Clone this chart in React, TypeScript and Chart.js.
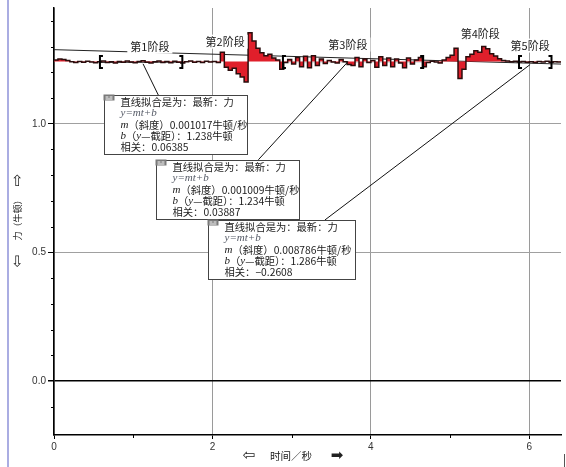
import React, { useEffect, useRef } from 'react';
import { Chart, registerables } from 'chart.js';

Chart.register(...registerables);

// sampling grid of the force sensor (seconds)
const sampleInterval = 0.05;
// force readings (N), one per sample
const force = [
  1.248, 1.252, 1.250, 1.246, 1.241, 1.238, 1.242, 1.239, 1.243, 1.240,
  1.237, 1.241, 1.244, 1.238, 1.241, 1.236, 1.242, 1.239, 1.244, 1.240,
  1.237, 1.242, 1.245, 1.239, 1.236, 1.241, 1.244, 1.238, 1.242, 1.237,
  1.243, 1.239, 1.236, 1.241, 1.244, 1.239, 1.242, 1.238, 1.243, 1.240,
  1.242, 1.238, 1.278, 1.220, 1.208, 1.216, 1.194, 1.182, 1.162, 1.354,
  1.322, 1.294, 1.276, 1.264, 1.270, 1.256, 1.248, 1.212, 1.238, 1.250,
  1.232, 1.258, 1.222, 1.262, 1.218, 1.264, 1.226, 1.252, 1.234, 1.246,
  1.240, 1.236, 1.250, 1.241, 1.230, 1.226, 1.258, 1.222, 1.252, 1.238,
  1.246, 1.220, 1.260, 1.226, 1.256, 1.222, 1.252, 1.236, 1.218, 1.256,
  1.232, 1.248, 1.258, 1.222, 1.238, 1.243, 1.240, 1.236, 1.248, 1.258,
  1.266, 1.294, 1.176, 1.212, 1.260, 1.270, 1.284, 1.278, 1.300, 1.292,
  1.272, 1.263, 1.253, 1.246, 1.244, 1.241, 1.243, 1.240, 1.242, 1.239,
  1.241, 1.238, 1.242, 1.240, 1.243, 1.239, 1.241, 1.240, 1.242,
];
const fillBaseline = 1.242;

const xTicks = [0, 2, 4, 6];
const xMinorTicks = [1, 3, 5];
const yTicks = [0, 0.5, 1.0];
const yMinorTicks = [-0.1, 0.1, 0.2, 0.3, 0.4, 0.6, 0.7, 0.8, 0.9, 1.1, 1.2, 1.3, 1.4];

// fitted lines: [t0, f0, t1, f1]
const fitLongLine = [0, 1.288, 6.4, 1.232];
const fitStage1Line = [0.58, 1.2386, 1.62, 1.2396];
const fitStage3Line = [2.89, 1.237, 4.67, 1.239];

// stage labels
const stageNames = ['第1阶段', '第2阶段', '第3阶段', '第4阶段', '第5阶段'];
const stageLabelT = [1.21, 2.16, 3.71, 5.38, 6.01];
const stageLabelF = [1.300, 1.319, 1.308, 1.351, 1.304];

// bracket ranges (t) of fitted stages
const bracketStart = [0.58, 2.89, 5.87];
const bracketEnd = [1.62, 4.66, 6.28];
const bracketF = 1.24;

// fit result boxes
const fitTitle = '直线拟合是为：最新：力';
const fitSlopes = ['0.001017', '0.001009', '0.008786'];
const fitIntercepts = ['1.238', '1.234', '1.286'];
const fitCorrelations = ['0.06385', '0.03887', '−0.2608'];
const boxT = [0.632, 1.288, 1.945];
const boxF = [1.112, 0.860, 0.625];
const boxW = [143, 143, 147];
const calloutFromT = [1.124, 3.71, 6.01];
const calloutFromF = [1.233, 1.241, 1.230];
const calloutToT = [1.34, 2.58, 3.42];
const calloutToF = [1.097, 0.860, 0.626];

const CJK = '"Noto Sans CJK SC", "Noto Sans", sans-serif';
const SERIF_IT = 'italic 11px "Liberation Serif", "DejaVu Serif", serif';

function rich(ctx: CanvasRenderingContext2D, x: number, y: number, segs: [string, boolean][]) {
  let cx = x;
  for (const [s, it] of segs) {
    ctx.font = it ? SERIF_IT : `10.3px ${CJK}`;
    ctx.fillText(s, cx, y);
    cx += ctx.measureText(s).width;
  }
}

const overlay = {
  id: 'overlay',
  afterDatasetsDraw(chart: any) {
    const ctx: CanvasRenderingContext2D = chart.ctx;
    const xs = chart.scales.x;
    const ys = chart.scales.y;
    const px = (t: number) => xs.getPixelForValue(t);
    const py = (f: number) => ys.getPixelForValue(f);
    ctx.save();
    // brackets
    ctx.strokeStyle = '#000';
    ctx.lineWidth = 2;
    for (let i = 0; i < bracketStart.length; i++) {
      const yc = py(bracketF);
      const a = px(bracketStart[i]);
      const b = px(bracketEnd[i]);
      ctx.beginPath();
      ctx.moveTo(a + 3, yc - 6); ctx.lineTo(a, yc - 6); ctx.lineTo(a, yc + 6); ctx.lineTo(a + 3, yc + 6);
      ctx.moveTo(b - 3, yc - 6); ctx.lineTo(b, yc - 6); ctx.lineTo(b, yc + 6); ctx.lineTo(b - 3, yc + 6);
      ctx.stroke();
    }
    // stage labels
    ctx.font = `11px ${CJK}`;
    ctx.textAlign = 'center';
    ctx.textBaseline = 'middle';
    for (let i = 0; i < stageNames.length; i++) {
      const x = px(stageLabelT[i]);
      const y = py(stageLabelF[i]);
      const w = ctx.measureText(stageNames[i]).width;
      ctx.fillStyle = '#fff';
      ctx.fillRect(x - w / 2 - 3, y - 7, w + 6, 14);
      ctx.fillStyle = '#222';
      ctx.fillText(stageNames[i], x, y);
    }
    // callout lines
    ctx.strokeStyle = '#111';
    ctx.lineWidth = 1;
    for (let i = 0; i < calloutFromT.length; i++) {
      ctx.beginPath();
      ctx.moveTo(px(calloutFromT[i]), py(calloutFromF[i]));
      ctx.lineTo(px(calloutToT[i]), py(calloutToF[i]));
      ctx.stroke();
    }
    // boxes
    ctx.textAlign = 'left';
    for (let i = 0; i < boxT.length; i++) {
      const l = Math.round(px(boxT[i])) + 0.5;
      const t = Math.round(py(boxF[i])) + 0.5;
      const w = boxW[i];
      const h = 59;
      ctx.fillStyle = '#fff';
      ctx.fillRect(l, t, w, h);
      ctx.strokeStyle = '#444';
      ctx.lineWidth = 1;
      ctx.strokeRect(l, t, w, h);
      // icon
      ctx.fillStyle = '#7a7a7a';
      ctx.fillRect(l - 1, t - 1, 11, 6);
      ctx.fillStyle = '#fff';
      ctx.fillRect(l + 1, t + 1, 3, 1);
      ctx.fillRect(l + 5, t + 1, 3, 1);
      ctx.fillRect(l + 1, t + 3, 7, 1);
      const tx = l + 16;
      ctx.fillStyle = '#1a1a1a';
      rich(ctx, tx, t + 7, [[fitTitle, false]]);
      ctx.fillStyle = '#555a66';
      rich(ctx, tx, t + 18, [['y=mt+b', true]]);
      ctx.fillStyle = '#1a1a1a';
      rich(ctx, tx, t + 29.5, [['m', true], ['（斜度）' + fitSlopes[i] + '牛顿/秒', false]]);
      rich(ctx, tx, t + 41, [['b', true], ['（', false], ['y', true], ['—截距）：' + fitIntercepts[i] + '牛顿', false]]);
      rich(ctx, tx, t + 52, [['相关：' + fitCorrelations[i], false]]);
    }
    ctx.restore();
  },
  afterDraw(chart: any) {
    const ctx: CanvasRenderingContext2D = chart.ctx;
    const xs = chart.scales.x;
    const ys = chart.scales.y;
    const area = chart.chartArea;
    ctx.save();
    // minor ticks
    ctx.strokeStyle = '#000';
    ctx.lineWidth = 1;
    ctx.beginPath();
    for (const v of yMinorTicks) {
      const y = Math.round(ys.getPixelForValue(v)) + 0.5;
      ctx.moveTo(area.left - 3, y); ctx.lineTo(area.left, y);
    }
    for (const v of xMinorTicks) {
      const x = Math.round(xs.getPixelForValue(v)) + 0.5;
      ctx.moveTo(x, area.bottom); ctx.lineTo(x, area.bottom + 3);
    }
    ctx.stroke();
    // left page rule
    ctx.strokeStyle = '#8e92d8';
    ctx.lineWidth = 1.5;
    ctx.beginPath();
    ctx.moveTo(8, 0); ctx.lineTo(8, 467);
    ctx.stroke();
    ctx.strokeStyle = '#555';
    ctx.lineWidth = 1;
    ctx.beginPath();
    ctx.moveTo(564.5, 454); ctx.lineTo(564.5, 467);
    ctx.stroke();
    // y title
    ctx.fillStyle = '#222';
    ctx.textBaseline = 'middle';
    ctx.textAlign = 'center';
    ctx.translate(18, 220);
    ctx.rotate(-Math.PI / 2);
    ctx.font = '15px "DejaVu Sans"';
    ctx.fillText('⇦', -41, 0);
    ctx.fillText('⇨', 40, 0);
    ctx.font = `9px ${CJK}`;
    ctx.fillText('力（牛顿）', 2, 0);
    ctx.setTransform(1, 0, 0, 1, 0, 0);
    // x title
    const ty = 456;
    ctx.font = '15px "DejaVu Sans"';
    ctx.fillText('⇦', 249, ty);
    ctx.fillText('➡', 337, ty);
    ctx.font = `10.5px ${CJK}`;
    ctx.fillText('时间／秒', 291, ty);
    ctx.restore();
  },
};

export default function App() {
  const ref = useRef<HTMLCanvasElement | null>(null);
  useEffect(() => {
    if (!ref.current) return;
    const points = force.map((f, i) => ({ x: i * sampleInterval, y: f }));
    const seg = (a: number[]) => [{ x: a[0], y: a[1] }, { x: a[2], y: a[3] }];
    const chart = new Chart(ref.current, {
      type: 'line',
      data: {
        datasets: [
          {
            data: points,
            stepped: true,
            borderColor: '#2a0c0c',
            borderWidth: 1.5,
            backgroundColor: '#e01f2b',
            fill: { value: fillBaseline },
            pointRadius: 0,
          } as any,
          { data: seg(fitLongLine), borderColor: '#222', borderWidth: 1, pointRadius: 0, fill: false },
          { data: seg(fitStage1Line), borderColor: '#222', borderWidth: 1, pointRadius: 0, fill: false },
          { data: seg(fitStage3Line), borderColor: '#ddd', borderWidth: 1, pointRadius: 0, fill: false },
        ],
      },
      options: {
        animation: false,
        responsive: false,
        devicePixelRatio: 1,
        layout: { padding: { top: 8, right: 5, left: 0, bottom: 0 } },
        plugins: { legend: { display: false }, tooltip: { enabled: false } },
        scales: {
          x: {
            type: 'linear',
            min: 0,
            max: 6.4,
            afterBuildTicks: (s: any) => { s.ticks = xTicks.map((v) => ({ value: v })); },
            afterFit: (s: any) => { s.height = 32; },
            grid: { color: '#9a9a9a', lineWidth: 1, tickLength: 4, tickColor: '#000' },
            border: { color: '#000', width: 1.5 },
            ticks: {
              color: '#333',
              padding: 2,
              maxRotation: 0,
              font: { family: '"Liberation Sans", Arial, sans-serif', size: 10 },
              callback: (v: any) => String(v),
            },
          },
          y: {
            type: 'linear',
            min: -0.21,
            max: 1.45,
            afterBuildTicks: (s: any) => { s.ticks = yTicks.map((v) => ({ value: v })); },
            afterFit: (s: any) => { s.width = 54; },
            grid: {
              color: (c: any) => (c.tick && c.tick.value === 0 ? '#000' : '#a0a0a0'),
              lineWidth: (c: any) => (c.tick && c.tick.value === 0 ? 1.5 : 1),
              tickLength: 6,
              tickColor: '#000',
            },
            border: { color: '#000', width: 1.5 },
            ticks: {
              color: '#333',
              padding: 2,
              font: { family: '"Liberation Sans", Arial, sans-serif', size: 10 },
              callback: (v: any) => Number(v).toFixed(1),
            },
          },
        },
      },
      plugins: [overlay],
    });
    return () => chart.destroy();
  }, []);
  return (
    <div style={{ position: 'fixed', left: 0, top: 0, width: 566, height: 467, background: '#fff' }}>
      <canvas ref={ref} width={566} height={467} style={{ width: 566, height: 467 }} />
    </div>
  );
}
